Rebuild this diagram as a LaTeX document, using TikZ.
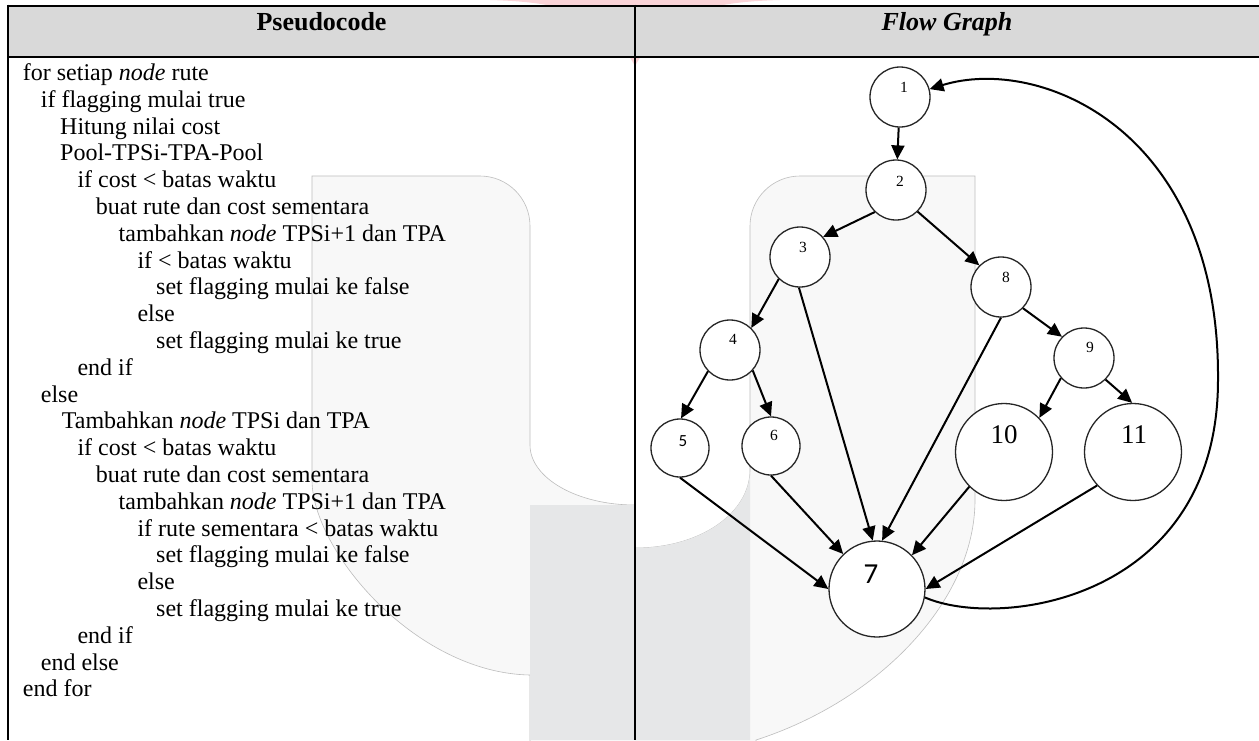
\documentclass[tikz,border=0pt]{standalone}
\usepackage{fontspec}
\setmainfont{Liberation Serif}
\newfontfamily\calibfont{Carlito}
\usetikzlibrary{arrows.meta}
\definecolor{hdr}{HTML}{D9D9D9}
\definecolor{wmlight}{HTML}{F8F8F8}
\definecolor{wmdark}{HTML}{E6E7E8}
\definecolor{wmline}{HTML}{BDBDBD}
\definecolor{wmpink}{HTML}{FAD4D8}
\begin{document}
\begin{tikzpicture}[x=1pt,y=-1pt,
  code/.style={anchor=base west, inner sep=0pt, font=\fontsize{24}{27}\selectfont},
  ttl/.style={anchor=base, inner sep=0pt, font=\fontsize{26}{28}\selectfont\bfseries},
  tablerule/.style={line width=2.2pt, black},
  vtx/.style={circle, draw=black!85, line width=1.3pt, fill=white, inner sep=0pt, minimum size=60pt},
  midvtx/.style={vtx, minimum size=58pt},
  bigvtx/.style={vtx, minimum size=97pt},
  vlbl/.style={inner sep=0pt, font=\fontsize{15.5}{16}\selectfont},
  biglbl/.style={inner sep=0pt, font=\fontsize{27}{28}\selectfont},
  edge/.style={line width=2pt, -{Triangle[length=14pt,width=13pt]}},
]
\useasboundingbox (0,0) rectangle (1259,740);
\fill[white] (0,0) rectangle (1259,740);
% ---- watermark ----
\path[fill=wmlight, draw=wmline, line width=0.6pt]
  (312,176) -- (480,176) .. controls (507.6,176) and (530,198.4) .. (530,226)
  -- (530,445) .. controls (530,478) and (577,505) .. (635,505)
  -- (635,548) .. controls (700.75,548) and (750,513) .. (750,470)
  -- (750,226) .. controls (750,198.4) and (772.4,176) .. (800,176)
  -- (975,176) -- (975,500) .. controls (975,600) and (880,700) .. (756,740)
  -- (756,745) -- (530,745) -- (530,675)
  .. controls (415,673) and (312,550) .. (312,480) -- cycle;
\fill[wmdark] (530,505) rectangle (635,740);
\fill[wmdark] (635,548) .. controls (700.75,548) and (750,513) .. (750,470)
  -- (750,740) -- (635,740) -- cycle;
\fill[wmpink] (490,0) .. controls (560,2) and (605,12) .. (635,66)
  .. controls (665,12) and (710,2) .. (780,0) -- cycle;
% ---- table ----
\fill[hdr] (8.3,5.7) rectangle (1259,57.3);
\draw[tablerule] (7.2,5.7) -- (1259,5.7);
\draw[tablerule] (7.2,57.3) -- (1259,57.3);
\draw[tablerule] (8.3,4.6) -- (8.3,740);
\draw[tablerule] (635,4.6) -- (635,740);
\node[ttl] (tl) at (321.5,30.7) {Pseudocode};
\node[ttl, font=\fontsize{26}{28}\selectfont\bfseries\itshape] (tr) at (947,30.7) {Flow Graph};
% ---- pseudocode ----
\node[code] (c0)  at (22.7, 80.5) {for setiap \textit{node} rute};
\node[code] (c1)  at (40.7,107.3) {if flagging mulai true};
\node[code] (c2)  at (60.0,134.1) {Hitung nilai cost};
\node[code] (c3)  at (60.0,160.9) {Pool-TPSi-TPA-Pool};
\node[code] (c4)  at (77.3,187.7) {if cost < batas waktu};
\node[code] (c5)  at (95.7,214.5) {buat rute dan cost sementara};
\node[code] (c6)  at (118.5,241.3) {tambahkan \textit{node} TPSi+1 dan TPA};
\node[code] (c7)  at (137.3,268.1) {if < batas waktu};
\node[code] (c8)  at (156.0,294.9) {set flagging mulai ke false};
\node[code] (c9)  at (137.3,321.7) {else};
\node[code] (c10) at (156.0,348.5) {set flagging mulai ke true};
\node[code] (c11) at (77.3,375.3) {end if};
\node[code] (c12) at (40.7,402.1) {else};
\node[code] (c13) at (61.7,428.9) {Tambahkan \textit{node} TPSi dan TPA};
\node[code] (c14) at (77.3,455.7) {if cost < batas waktu};
\node[code] (c15) at (95.7,482.5) {buat rute dan cost sementara};
\node[code] (c16) at (118.5,509.3) {tambahkan \textit{node} TPSi+1 dan TPA};
\node[code] (c17) at (137.3,536.1) {if rute sementara < batas waktu};
\node[code] (c18) at (156.0,562.9) {set flagging mulai ke false};
\node[code] (c19) at (137.3,589.7) {else};
\node[code] (c20) at (156.0,616.5) {set flagging mulai ke true};
\node[code] (c21) at (77.3,643.3) {end if};
\node[code] (c22) at (40.7,670.1) {end else};
\node[code] (c23) at (22.7,696.9) {end for};
% ---- flow graph ----
\node[vtx] (n1) at (900,97) {};
\node[vtx] (n2) at (896,190) {};
\node[vtx] (n3) at (800,257) {};
\node[vtx] (n8) at (1001,287) {};
\node[vtx] (n4) at (730,350) {};
\node[vtx] (n9) at (1084,358) {};
\node[midvtx] (n5) at (680,448) {};
\node[midvtx] (n6) at (771,446) {};
\node[bigvtx] (n10) at (1004,452) {};
\node[bigvtx] (n11) at (1133,452) {};
\node[bigvtx, minimum size=96pt] (n7) at (877,589) {};
\node[vlbl] (l1) at ([shift={(4,-10)}]n1.center) {1};
\node[vlbl] (l2) at ([shift={(4,-9)}]n2.center) {2};
\node[vlbl] (l3) at ([shift={(3,-10)}]n3.center) {3};
\node[vlbl] (l8) at ([shift={(5,-10)}]n8.center) {8};
\node[vlbl] (l4) at ([shift={(3,-11)}]n4.center) {4};
\node[vlbl] (l9) at ([shift={(6,-11)}]n9.center) {9};
\node[vlbl, font=\calibfont\fontsize{17}{18}\selectfont] (l5) at ([shift={(3,-7)}]n5.center) {5};
\node[vlbl] (l6) at ([shift={(3,-11)}]n6.center) {6};
\node[biglbl] (l10) at ([shift={(0,-17)}]n10.center) {10};
\node[biglbl] (l11) at ([shift={(1,-17)}]n11.center) {11};
\node[biglbl, font=\calibfont\fontsize{29}{30}\selectfont] (l7) at ([shift={(-6,-15)}]n7.center) {7};
\draw[edge] (n1) -- (n2);
\draw[edge] (n2.226) -- (n3.41);
\draw[edge] (n2.-45) -- (n8.135);
\draw[edge] (n3.226) -- (n4.46);
\draw[edge] (n3.268) -- (n7.95);
\draw[edge] (n8.270) -- (n7.84);
\draw[edge] (n8.-44) -- (n9.136);
\draw[edge] (n4.224) -- (n5.88);
\draw[edge] (n4.-42) -- (n6.90);
\draw[edge] (n9.221) -- (n10.44);
\draw[edge] (n9.-45) -- (n11.91);
\draw[edge] (n5.270) -- (n7.180);
\draw[edge] (n6.270) -- (n7.134);
\draw[edge] (n10.225) -- (n7.44);
\draw[edge] (n11.223) -- (n7.0);
\draw[edge] (n7.-10) .. controls (1000,630) and (1218,600) .. (1218,380)
  .. controls (1220,130) and (1040,55) .. (n1.15);
\end{tikzpicture}
\end{document}
